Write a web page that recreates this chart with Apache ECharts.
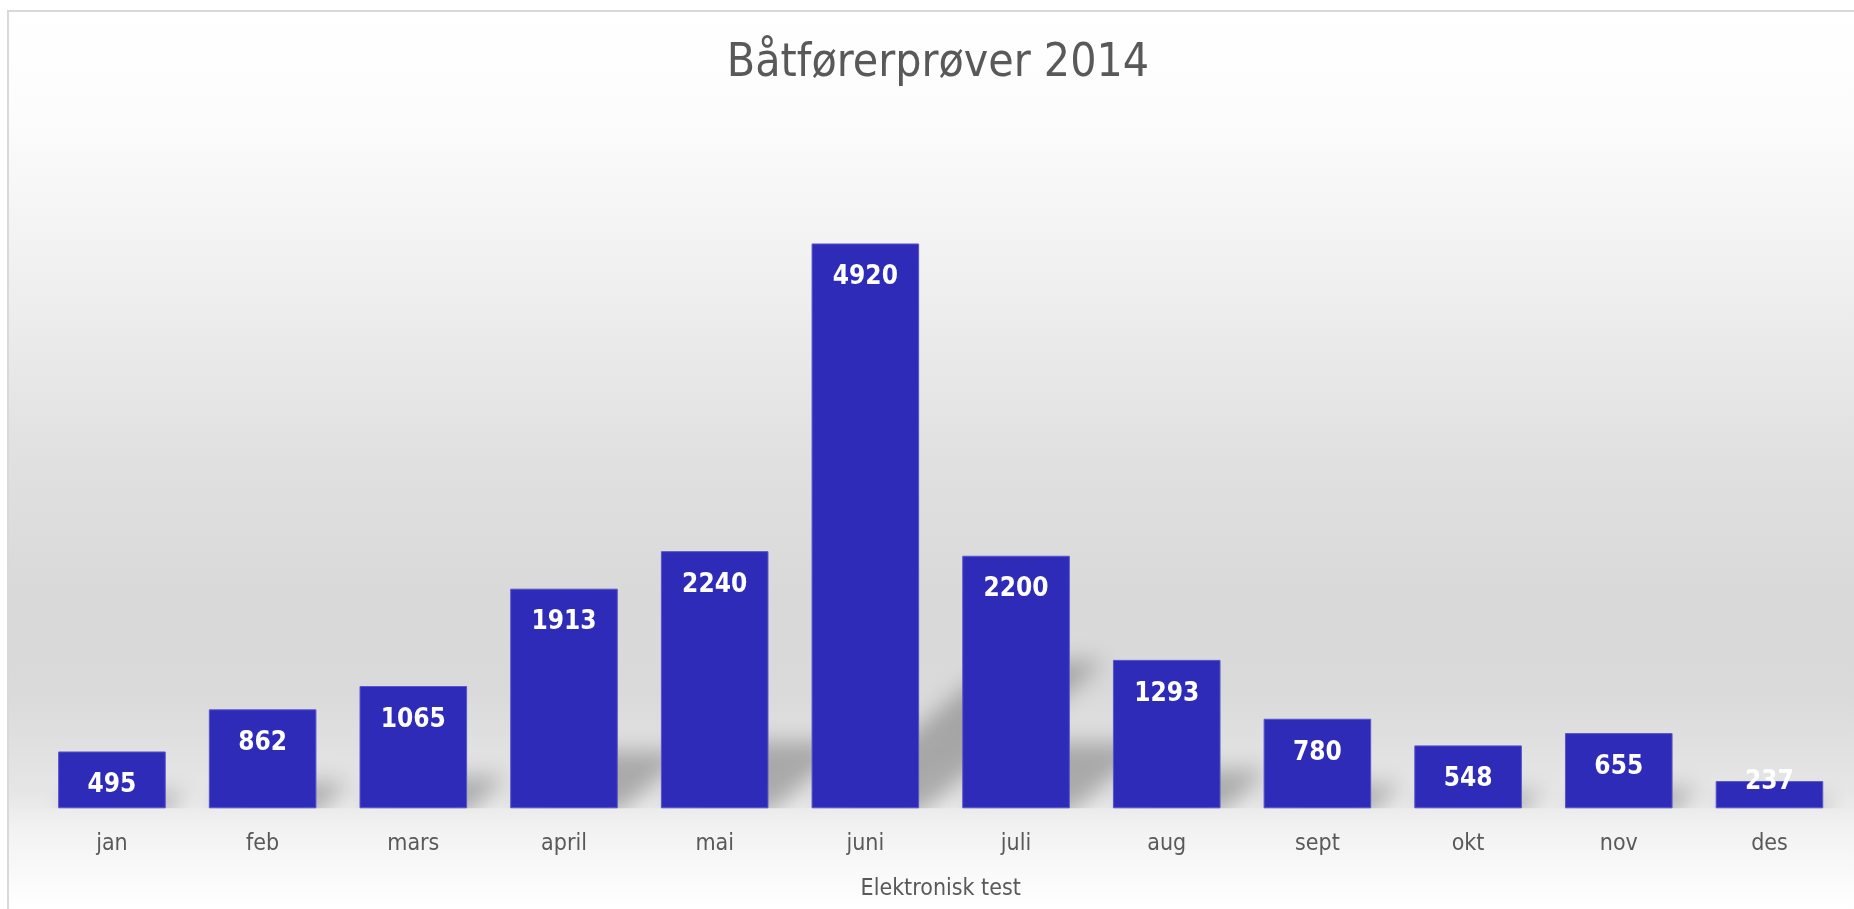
<!DOCTYPE html>
<html>
<head>
<meta charset="utf-8">
<title>Båtførerprøver 2014</title>
<script src="https://cdn.jsdelivr.net/npm/echarts@6/dist/echarts.min.js"></script>
<style>
  html, body { margin: 0; padding: 0; background: #fff; overflow: hidden; }
  #frame { position: absolute; left: 7px; top: 10px; border-left: 2px solid #d9d9d9; border-top: 2px solid #d9d9d9; }
  #chart { width: 1845px; height: 897px; }
</style>
</head>
<body>
<div id="frame"><div id="chart"></div></div>
<script>
// data
const months = ['jan', 'feb', 'mars', 'april', 'mai', 'juni', 'juli', 'aug', 'sept', 'okt', 'nov', 'des']
const tests = [495, 862, 1065, 1913, 2240, 4920, 2200, 1293, 780, 548, 655, 237]
const titleText = 'Båtførerprøver 2014'
const axisName = 'Elektronisk test'

const font = '"DejaVu Sans Condensed", "DejaVu Sans", sans-serif'
const textGrey = '#595959'
const OFF = 4000 // shadow shape drawn off canvas, only its blur is shifted back

const chart = echarts.init(document.getElementById('chart'))

// short bars: the label sits across the top edge instead of inside
const barData = tests.map(v => {
  if (v < 400) {
    return { value: v, label: { position: 'top', distance: -14 } }
  }
  return v
})

chart.setOption({
  animation: false,
  backgroundColor: new echarts.graphic.LinearGradient(0, 0, 0, 1, [
    { offset: 0, color: '#ffffff' },
    { offset: 0.12, color: '#fcfcfc' },
    { offset: 0.32, color: '#eeeeee' },
    { offset: 0.49, color: '#e1e1e1' },
    { offset: 0.65, color: '#d9d9d9' },
    { offset: 0.76, color: '#dadada' },
    { offset: 0.87, color: '#e6e6e6' },
    { offset: 0.91, color: '#f2f2f2' },
    { offset: 1, color: '#ffffff' }
  ]),
  title: {
    text: titleText,
    left: 924,
    top: 24,
    textAlign: 'center',
    textStyle: {
      fontFamily: font,
      fontSize: 46,
      fontWeight: 'normal',
      color: textGrey
    }
  },
  grid: {
    left: 27.6,
    right: 9.2,
    top: 107.5,
    bottom: 100.7
  },
  xAxis: {
    type: 'category',
    data: months,
    axisLine: { show: false },
    axisTick: { show: false },
    axisLabel: {
      margin: 24,
      fontSize: 23,
      fontFamily: font,
      color: textGrey
    },
    name: axisName,
    nameLocation: 'middle',
    nameGap: 69,
    nameTextStyle: {
      fontSize: 23,
      fontFamily: font,
      color: textGrey
    }
  },
  yAxis: {
    type: 'value',
    min: 0,
    max: 6000,
    show: false
  },
  series: [
    {
      // soft slanted shadow lying behind each bar
      type: 'custom',
      clip: true,
      z: 1,
      silent: true,
      data: tests.map((v, i) => [i, v]),
      renderItem(params, api) {
        const base = api.coord([api.value(0), 0])
        const top = api.coord([api.value(0), api.value(1)])
        const w = api.size([1, 0])[0] * 0.714
        const h = base[1] - top[1]
        const x0 = base[0] - w / 2 - OFF
        const x1 = base[0] + w / 2 - OFF
        const y = base[1] + 6
        const dx = h * 0.33
        const dy = h * 0.26 + 6
        return {
          type: 'polygon',
          shape: { points: [[x0, y], [x1, y], [x1 + dx, y - dy], [x0 + dx, y - dy]] },
          style: {
            fill: '#000',
            shadowBlur: 22,
            shadowOffsetX: OFF,
            shadowColor: 'rgba(0,0,0,0.26)'
          }
        }
      }
    },
    {
      type: 'bar',
      z: 2,
      data: barData,
      barCategoryGap: '28.6%',
      itemStyle: {
        color: '#2e2bb8',
        borderColor: '#5755c9',
        borderWidth: 1
      },
      label: {
        show: true,
        position: 'insideTop',
        distance: 21,
        color: '#ffffff',
        fontFamily: font,
        fontSize: 26,
        fontWeight: 'bold'
      }
    }
  ]
})
</script>
</body>
</html>
